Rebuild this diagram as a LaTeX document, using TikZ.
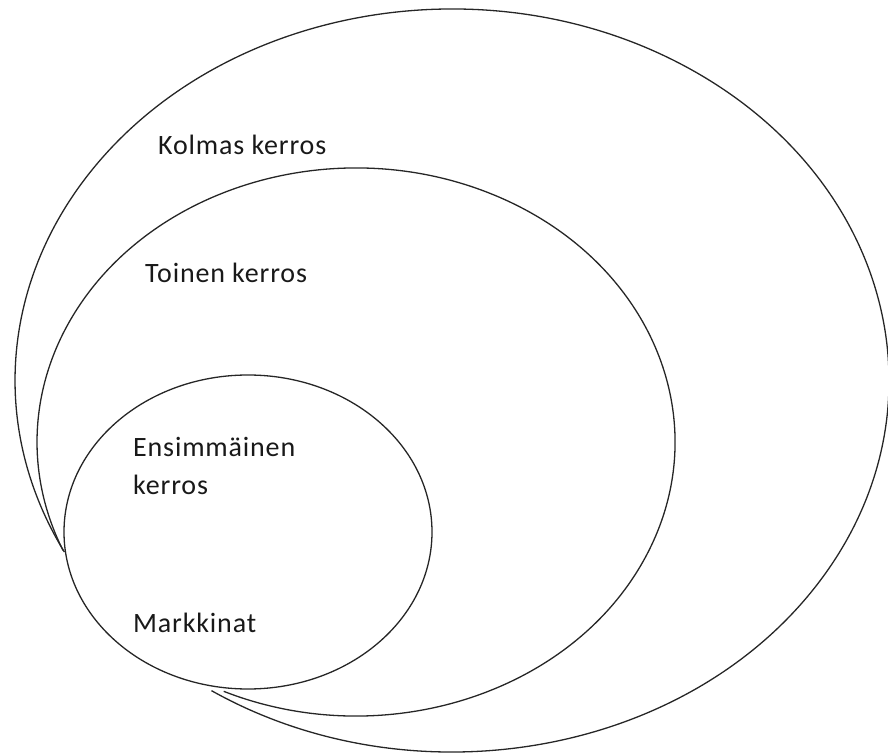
\documentclass[tikz,border=0pt]{standalone}
\usepackage{fontspec}
\setmainfont{Carlito}[LetterSpace=3]
\begin{document}
\begin{tikzpicture}[x=1pt,y=1pt,
  ring/.style={draw=black!85,line width=1.3pt},
  lbl/.style={anchor=base west,inner sep=0pt,font=\fontsize{28}{34}\selectfont,text=black!90}]
\useasboundingbox (0,0) rectangle (888,755);
% outer layer (open arc)
\draw[ring] ([shift={(236.6:437pt and 371.5pt)}]452,374.5) arc[start angle=236.6,end angle=567.5,x radius=437pt,y radius=371.5pt];
% middle layer (open arc)
\draw[ring] ([shift={(245.5:319pt and 274pt)}]356,313) arc[start angle=245.5,end angle=563.3,x radius=319pt,y radius=274pt];
% inner layer
\draw[ring] (248,223) ellipse[x radius=184pt,y radius=157pt];
\node[lbl] (kolmas) at (158,600) {Kolmas kerros};
\node[lbl] (toinen) at (145,472) {Toinen kerros};
\node[lbl] (ens) at (133,298) {Ensimmäinen};
\node[lbl] (ker) at (133,260) {kerros};
\node[lbl] (mark) at (133,123) {Markkinat};
\end{tikzpicture}
\end{document}
